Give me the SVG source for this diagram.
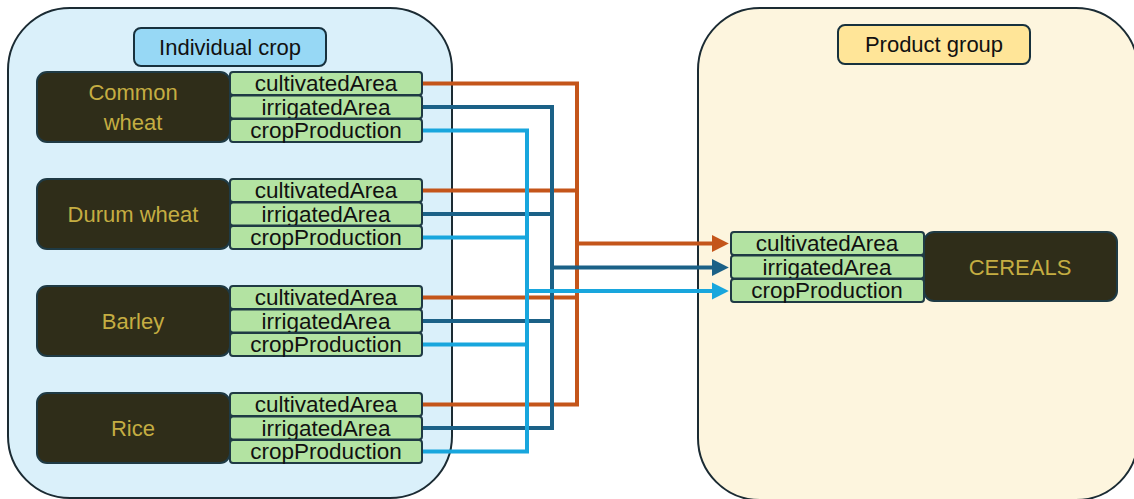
<svg xmlns="http://www.w3.org/2000/svg" width="1134" height="499" viewBox="0 0 1134 499">
<defs>
<style>
.cont{stroke:#1b2b33;stroke-width:2}
.lbl{stroke:#17313d;stroke-width:2}
.crop{fill:#2f2d19;stroke:#1f3a44;stroke-width:2}
.attr{fill:#b3e3a2;stroke:#1f3a44;stroke-width:2}
.at{font-family:"Liberation Sans",Arial,sans-serif;font-size:22.5px;fill:#111;text-anchor:middle}
.ct{font-family:"Liberation Sans",Arial,sans-serif;font-size:22px;fill:#c5ad42;text-anchor:middle}
.lt{font-family:"Liberation Sans",Arial,sans-serif;font-size:22px;fill:#111;text-anchor:middle}
.o{fill:none;stroke:#c4551a;stroke-width:4}
.d{fill:none;stroke:#1b6187;stroke-width:4}
.l{fill:none;stroke:#18a6dd;stroke-width:4}
</style>
<marker id="mo" markerWidth="5" markerHeight="5" refX="0.5" refY="2.5" orient="auto" markerUnits="strokeWidth" viewBox="0 0 5 5"><path d="M0,0.4 L4.2,2.5 L0,4.6 z" fill="#c4551a"/></marker>
<marker id="md" markerWidth="5" markerHeight="5" refX="0.5" refY="2.5" orient="auto" markerUnits="strokeWidth" viewBox="0 0 5 5"><path d="M0,0.4 L4.2,2.5 L0,4.6 z" fill="#1b6187"/></marker>
<marker id="ml" markerWidth="5" markerHeight="5" refX="0.5" refY="2.5" orient="auto" markerUnits="strokeWidth" viewBox="0 0 5 5"><path d="M0,0.4 L4.2,2.5 L0,4.6 z" fill="#18a6dd"/></marker>
</defs>
<rect width="1134" height="499" fill="#ffffff"/>
<g id="individual-crop-container">
<rect class="cont" x="8" y="8" width="444" height="490" rx="62" fill="#daf0fa"/>
<rect class="lbl" x="134" y="28" width="192" height="38" rx="7" fill="#97d8f5"/>
<text class="lt" x="230" y="55">Individual crop</text>
</g>
<g id="product-group-container">
<rect class="cont" x="698" y="8" width="440" height="492" rx="62" fill="#fdf5de"/>
<rect class="lbl" x="838" y="25" width="192" height="39" rx="7" fill="#ffe598"/>
<text class="lt" x="934" y="52">Product group</text>
</g>
<g id="connectors">
<path class="o" d="M422,83.5 H577 V404.5 H422 M422,190.5 H577 M422,297.5 H577"/>
<path class="o" d="M577,243.5 H714" marker-end="url(#mo)"/>
<path class="d" d="M422,107 H552 V428 H422 M422,214 H552 M422,321 H552"/>
<path class="d" d="M552,267.5 H714" marker-end="url(#md)"/>
<path class="l" d="M422,130.5 H527 V451.5 H422 M422,237.5 H527 M422,344.5 H527"/>
<path class="l" d="M527,291 H714" marker-end="url(#ml)"/>
</g>
<g id="common-wheat">
<rect class="crop" x="37" y="72" width="193" height="70" rx="10"/>
<text class="ct" x="133" y="100">Common</text>
<text class="ct" x="133" y="130">wheat</text>
<rect class="attr" x="230" y="72" width="192" height="23" rx="3"/>
<text class="at" x="326" y="91">cultivatedArea</text>
<rect class="attr" x="230" y="95.5" width="192" height="23" rx="3"/>
<text class="at" x="326" y="114.5">irrigatedArea</text>
<rect class="attr" x="230" y="119" width="192" height="23" rx="3"/>
<text class="at" x="326" y="138">cropProduction</text>
</g>
<g id="durum-wheat">
<rect class="crop" x="37" y="179" width="193" height="70" rx="10"/>
<text class="ct" x="133" y="222">Durum wheat</text>
<rect class="attr" x="230" y="179" width="192" height="23" rx="3"/>
<text class="at" x="326" y="198">cultivatedArea</text>
<rect class="attr" x="230" y="202.5" width="192" height="23" rx="3"/>
<text class="at" x="326" y="221.5">irrigatedArea</text>
<rect class="attr" x="230" y="226" width="192" height="23" rx="3"/>
<text class="at" x="326" y="245">cropProduction</text>
</g>
<g id="barley">
<rect class="crop" x="37" y="286" width="193" height="70" rx="10"/>
<text class="ct" x="133" y="329">Barley</text>
<rect class="attr" x="230" y="286" width="192" height="23" rx="3"/>
<text class="at" x="326" y="305">cultivatedArea</text>
<rect class="attr" x="230" y="309.5" width="192" height="23" rx="3"/>
<text class="at" x="326" y="328.5">irrigatedArea</text>
<rect class="attr" x="230" y="333" width="192" height="23" rx="3"/>
<text class="at" x="326" y="352">cropProduction</text>
</g>
<g id="rice">
<rect class="crop" x="37" y="393" width="193" height="70" rx="10"/>
<text class="ct" x="133" y="436">Rice</text>
<rect class="attr" x="230" y="393" width="192" height="23" rx="3"/>
<text class="at" x="326" y="412">cultivatedArea</text>
<rect class="attr" x="230" y="416.5" width="192" height="23" rx="3"/>
<text class="at" x="326" y="435.5">irrigatedArea</text>
<rect class="attr" x="230" y="440" width="192" height="23" rx="3"/>
<text class="at" x="326" y="459">cropProduction</text>
</g>
<g id="cereals">
<rect class="crop" x="924" y="232" width="193" height="69" rx="10"/>
<text class="ct" x="1020" y="275">CEREALS</text>
<rect class="attr" x="731" y="232" width="193" height="23" rx="3"/>
<text class="at" x="827" y="251">cultivatedArea</text>
<rect class="attr" x="731" y="255.5" width="193" height="23" rx="3"/>
<text class="at" x="827" y="274.5">irrigatedArea</text>
<rect class="attr" x="731" y="279" width="193" height="23" rx="3"/>
<text class="at" x="827" y="298">cropProduction</text>
</g>
</svg>
